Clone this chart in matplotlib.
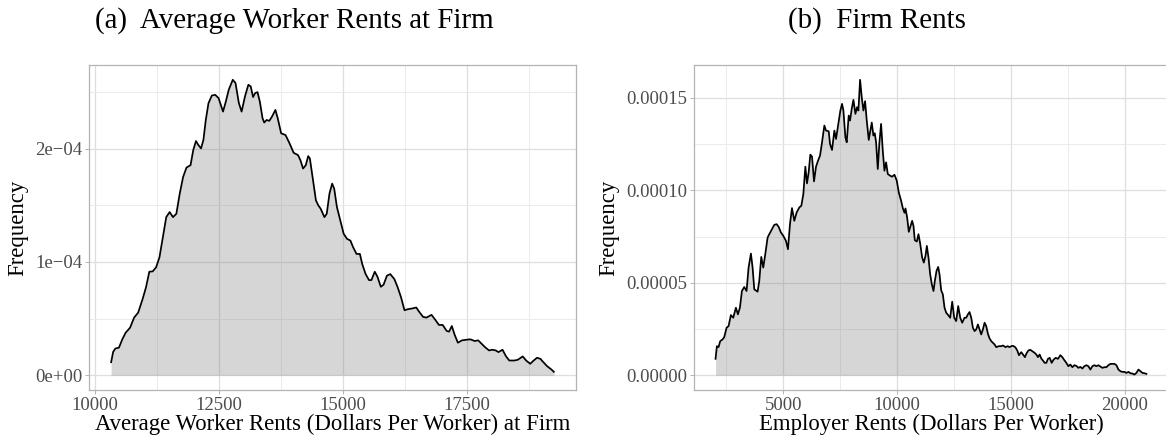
"""Density plots of worker rents and firm rents, two panels side by side."""
import numpy as np
import matplotlib
matplotlib.use("Agg")
import matplotlib.pyplot as plt
from matplotlib.ticker import FixedLocator

plt.rcParams["font.family"] = ["Liberation Serif", "DejaVu Serif"]

# (a) average worker rents at firm: density curve, y in units of 1e-4
worker_x = [10320, 10361, 10409, 10477, 10545, 10613, 10702, 10783, 10865, 10954,
            11022, 11090, 11158, 11226, 11294, 11362, 11431, 11499, 11567, 11635,
            11703, 11771, 11839, 11921, 11975, 12030, 12078, 12132, 12180, 12228,
            12282, 12350, 12418, 12486, 12575, 12623, 12691, 12772, 12827, 12895,
            12950, 13018, 13086, 13134, 13181, 13222, 13270, 13317, 13372, 13406,
            13454, 13508, 13563, 13631, 13678, 13747, 13835, 13917, 13999, 14087,
            14135, 14189, 14244, 14292, 14326, 14380, 14448, 14496, 14544, 14619,
            14666, 14721, 14775, 14816, 14871, 14939, 15007, 15075, 15143, 15198,
            15266, 15334, 15381, 15450, 15518, 15566, 15634, 15688, 15756, 15811,
            15879, 15947, 16029, 16097, 16165, 16233, 16301, 16383, 16471, 16526,
            16608, 16676, 16778, 16846, 16928, 17003, 17084, 17132, 17187, 17241,
            17309, 17391, 17493, 17561, 17650, 17718, 17786, 17854, 17936, 18004,
            18072, 18127, 18209, 18277, 18345, 18447, 18515, 18617, 18685, 18767,
            18822, 18903, 18972, 19026, 19108, 19196, 19244]
worker_y = [0.115, 0.207, 0.237, 0.243, 0.317, 0.376, 0.420, 0.509, 0.553, 0.672,
            0.775, 0.914, 0.917, 0.953, 1.041, 1.219, 1.396, 1.441, 1.396, 1.426,
            1.604, 1.751, 1.834, 1.855, 1.988, 2.068, 2.033, 2.003, 2.077, 2.254,
            2.402, 2.470, 2.476, 2.447, 2.328, 2.402, 2.521, 2.609, 2.580, 2.402,
            2.328, 2.462, 2.565, 2.550, 2.456, 2.491, 2.500, 2.417, 2.269, 2.231,
            2.254, 2.246, 2.284, 2.343, 2.269, 2.136, 2.121, 2.047, 1.964, 1.944,
            1.899, 1.825, 1.855, 1.935, 1.914, 1.751, 1.544, 1.500, 1.470, 1.396,
            1.426, 1.604, 1.692, 1.648, 1.485, 1.367, 1.249, 1.204, 1.189, 1.130,
            1.071, 1.071, 0.982, 0.893, 0.840, 0.840, 0.914, 0.870, 0.781, 0.799,
            0.879, 0.893, 0.849, 0.775, 0.686, 0.574, 0.583, 0.589, 0.598, 0.562,
            0.515, 0.509, 0.533, 0.494, 0.444, 0.444, 0.391, 0.385, 0.435, 0.361,
            0.287, 0.308, 0.314, 0.317, 0.302, 0.308, 0.278, 0.249, 0.219, 0.225,
            0.219, 0.204, 0.225, 0.169, 0.130, 0.130, 0.136, 0.166, 0.130, 0.101,
            0.124, 0.154, 0.145, 0.118, 0.080, 0.050, 0.030]

# (b) employer rents per worker: density curve, y in units of 1e-5
firm_x = [2024, 2083, 2156, 2229, 2332, 2405, 2508, 2596, 2698, 2801,
          2918, 3006, 3094, 3182, 3285, 3387, 3475, 3578, 3651, 3725,
          3871, 3944, 4032, 4120, 4208, 4311, 4384, 4502, 4604, 4707,
          4795, 4897, 5000, 5117, 5205, 5293, 5381, 5484, 5586, 5704,
          5792, 5880, 5968, 6041, 6114, 6187, 6261, 6349, 6437, 6525,
          6613, 6701, 6803, 6876, 6994, 7052, 7140, 7243, 7316, 7404,
          7507, 7580, 7639, 7727, 7785, 7873, 7932, 8005, 8079, 8167,
          8240, 8299, 8372, 8445, 8518, 8592, 8665, 8753, 8812, 8885,
          8958, 9017, 9075, 9149, 9222, 9295, 9369, 9442, 9515, 9589,
          9691, 9779, 9882, 9984, 10072, 10175, 10248, 10322, 10366, 10439,
          10512, 10571, 10659, 10717, 10776, 10864, 10937, 11011, 11099, 11172,
          11245, 11304, 11377, 11450, 11524, 11597, 11656, 11729, 11802, 11861,
          11934, 12007, 12081, 12154, 12242, 12330, 12418, 12506, 12594, 12682,
          12770, 12858, 12960, 13034, 13107, 13180, 13254, 13327, 13400, 13473,
          13547, 13620, 13693, 13767, 13840, 13913, 13987, 14060, 14133, 14206,
          14280, 14353, 14470, 14573, 14646, 14764, 14852, 14939, 15013, 15086,
          15189, 15277, 15350, 15453, 15526, 15614, 15672, 15760, 15848, 15936,
          16039, 16112, 16186, 16259, 16332, 16405, 16479, 16552, 16625, 16699,
          16787, 16875, 16963, 17065, 17168, 17256, 17344, 17432, 17520, 17608,
          17696, 17784, 17871, 17959, 18047, 18135, 18223, 18311, 18399, 18487,
          18575, 18663, 18751, 18839, 18927, 19015, 19103, 19191, 19279, 19367,
          19455, 19543, 19631, 19719, 19807, 19895, 19983, 20070, 20158, 20246,
          20334, 20422, 20510, 20598, 20686, 20774, 20862, 20950]
firm_y = [0.886, 1.572, 1.518, 1.843, 1.934, 2.060, 2.566, 2.657, 3.253, 3.109,
          3.651, 3.289, 3.651, 4.554, 4.771, 4.554, 5.820, 6.579, 5.820, 4.645,
          4.518, 5.097, 6.398, 5.820, 6.543, 7.446, 7.627, 7.898, 8.133, 8.169,
          8.025, 7.717, 7.537, 7.265, 6.814, 8.169, 9.037, 8.350, 8.802, 9.073,
          9.163, 9.796, 11.278, 10.374, 10.970, 11.928, 11.820, 10.482, 11.278, 11.603,
          11.874, 12.597, 13.501, 13.230, 13.194, 12.507, 12.181, 13.230, 12.778, 13.501,
          14.314, 14.676, 14.314, 12.868, 12.597, 14.043, 13.772, 14.404, 14.892, 14.133,
          14.495, 14.314, 15.977, 15.037, 14.314, 14.820, 13.772, 12.724, 13.139, 13.663,
          12.959, 13.085, 12.597, 11.151, 12.597, 13.591, 12.145, 11.061, 11.513, 10.880,
          10.790, 10.736, 10.844, 10.519, 9.886, 9.434, 9.037, 8.784, 9.019, 8.531,
          7.753, 7.988, 8.350, 8.079, 7.302, 7.229, 7.627, 7.121, 6.362, 6.091,
          6.452, 6.994, 6.362, 5.458, 4.916, 4.554, 5.097, 5.639, 5.856, 5.458,
          4.591, 4.374, 3.651, 3.380, 3.253, 3.109, 3.976, 3.109, 2.928, 3.741,
          3.109, 2.838, 3.109, 3.109, 3.289, 3.416, 3.109, 2.566, 2.386, 2.476,
          2.747, 2.476, 2.205, 2.476, 2.838, 2.657, 2.241, 1.988, 1.843, 1.753,
          1.663, 1.518, 1.572, 1.572, 1.609, 1.518, 1.572, 1.518, 1.572, 1.590,
          1.518, 1.337, 1.084, 1.247, 1.121, 0.976, 1.157, 1.337, 1.374, 1.301,
          1.211, 1.121, 0.976, 1.121, 0.904, 0.795, 0.669, 0.669, 0.886, 0.940,
          0.669, 0.849, 0.940, 0.886, 1.084, 0.976, 0.813, 0.669, 0.488, 0.578,
          0.434, 0.542, 0.506, 0.398, 0.452, 0.361, 0.488, 0.542, 0.488, 0.307,
          0.488, 0.542, 0.488, 0.542, 0.470, 0.398, 0.434, 0.434, 0.542, 0.614,
          0.614, 0.614, 0.542, 0.307, 0.217, 0.181, 0.181, 0.127, 0.181, 0.108,
          0.090, 0.036, 0.127, 0.307, 0.217, 0.127, 0.108, 0.072]

worker_xticks = [10000, 12500, 15000, 17500]
worker_xminor = [11250, 13750, 16250, 18750]
worker_yticks = [0, 1e-4, 2e-4]
worker_ylabels = ["0e+00", "1e\u221204", "2e\u221204"]
worker_yminor = [0.5e-4, 1.5e-4, 2.5e-4]

firm_xticks = [5000, 10000, 15000, 20000]
firm_xminor = [2500, 7500, 12500, 17500]
firm_yticks = [0, 5e-5, 1e-4, 1.5e-4]
firm_ylabels = ["0.00000", "0.00005", "0.00010", "0.00015"]
firm_yminor = [2.5e-5, 7.5e-5, 1.25e-4]

W, H = 1166, 442
fig = plt.figure(figsize=(W / 100, H / 100), dpi=100)


def px_axes(left, right, top, bottom):
    return fig.add_axes([left / W, 1 - bottom / H, (right - left) / W, (bottom - top) / H])


def density_panel(ax, x, y, xt, xm, yt, ylab, ym, xlabel):
    x = np.asarray(x)
    y = np.asarray(y)
    ax.fill_between(x, 0, y, color="#808080", alpha=0.32, linewidth=0, zorder=3)
    ax.plot(x, y, color="black", lw=1.25, zorder=4)
    ax.margins(x=0.05, y=0.05)
    ax.set_xticks(xt)
    ax.set_xticklabels([str(v) for v in xt])
    ax.set_yticks(yt)
    ax.set_yticklabels(ylab)
    ax.xaxis.set_minor_locator(FixedLocator(xm))
    ax.yaxis.set_minor_locator(FixedLocator(ym))
    ax.grid(True, which="major", color="#DEDEDE", lw=0.9, zorder=0)
    ax.grid(True, which="minor", color="#E8E8E8", lw=0.6, zorder=0)
    ax.set_axisbelow(True)
    ax.tick_params(which="major", length=3, width=0.7, color="#B3B3B3",
                   labelsize=13.5, labelcolor="#4D4D4D", pad=2)
    ax.tick_params(which="minor", length=0)
    for s in ax.spines.values():
        s.set_color("#B3B3B3")
        s.set_linewidth(0.9)
    ax.set_xlabel(xlabel, fontsize=16.4, labelpad=0)
    ax.set_ylabel("Frequency", fontsize=16.4, labelpad=5)


ax1 = px_axes(89, 576, 65, 390)
density_panel(ax1, worker_x, np.array(worker_y) * 1e-4, worker_xticks, worker_xminor,
              worker_yticks, worker_ylabels, worker_yminor,
              "Average Worker Rents (Dollars Per Worker) at Firm")

ax2 = px_axes(694, 1168, 65, 390)
density_panel(ax2, firm_x, np.array(firm_y) * 1e-5, firm_xticks, firm_xminor,
              firm_yticks, firm_ylabels, firm_yminor,
              "Employer Rents (Dollars Per Worker)")

fig.text(294 / W, 1 - 21 / H, "(a)  Average Worker Rents at Firm", fontsize=20.9,
         ha="center", va="center")
fig.text(877 / W, 1 - 21 / H, "(b)  Firm Rents", fontsize=20.9, ha="center", va="center")

fig.savefig("out.png", dpi=100)
